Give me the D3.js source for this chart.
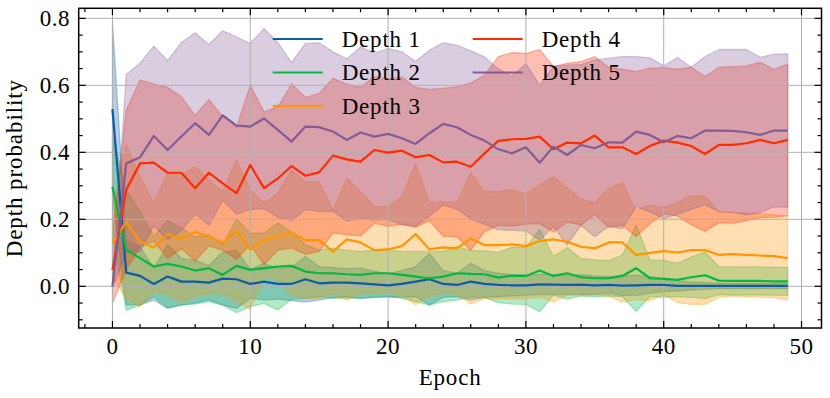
<!DOCTYPE html>
<html>
<head>
<meta charset="utf-8">
<script src="https://cdn.jsdelivr.net/npm/d3@7"></script>
<style>
  body { margin: 0; background: #fff; }
  svg text { font-family: "Liberation Serif", "DejaVu Serif", serif; fill: #000; }
</style>
</head>
<body>
<div id="chart"></div>
<script>
// depth probability per epoch: mean and std of each depth
var epochs = d3.range(0, 50);
var depthNames = ["Depth 1", "Depth 2", "Depth 3", "Depth 4", "Depth 5"];
var colors = ["#0C5DA5", "#00B945", "#FF9500", "#FF2C00", "#845B97"];

var mean1 = [0.529, 0.041, 0.031, 0.007, 0.029, 0.014, 0.014, 0.011, 0.023, 0.021,
             0.007, 0.014, 0.007, 0.007, 0.021, 0.009, 0.011, 0.011, 0.009, 0.006,
             0.003, 0.007, 0.014, 0.021, 0.007, 0.004, 0.014, 0.007, 0.004, 0.003,
             0.003, 0.006, 0.005, 0.004, 0.005, 0.003, 0.004, 0.002, 0.003, 0.004,
             0.004, 0.001, 0.001, 0.001, 0.001, 0.001, 0.001, 0.001, 0.001, 0.001];
var std1 = [0.26, 0.097, 0.087, 0.048, 0.095, 0.07, 0.064, 0.051, 0.079, 0.087,
            0.043, 0.055, 0.045, 0.05, 0.068, 0.05, 0.045, 0.042, 0.045, 0.04,
            0.035, 0.04, 0.045, 0.077, 0.04, 0.035, 0.055, 0.04, 0.035, 0.032,
            0.03, 0.03, 0.03, 0.028, 0.03, 0.028, 0.025, 0.03, 0.03, 0.025,
            0.02, 0.015, 0.012, 0.01, 0.008, 0.008, 0.008, 0.008, 0.008, 0.008];

var mean2 = [0.297, 0.108, 0.084, 0.059, 0.067, 0.059, 0.047, 0.054, 0.034, 0.061,
             0.049, 0.054, 0.059, 0.061, 0.044, 0.039, 0.039, 0.036, 0.034, 0.039,
             0.039, 0.034, 0.029, 0.024, 0.029, 0.039, 0.037, 0.036, 0.026, 0.032,
             0.031, 0.047, 0.031, 0.039, 0.027, 0.024, 0.024, 0.031, 0.054, 0.024,
             0.022, 0.019, 0.027, 0.033, 0.017, 0.016, 0.016, 0.016, 0.015, 0.015];
var std2 = [0.15, 0.18, 0.14, 0.09, 0.13, 0.115, 0.1, 0.1, 0.09, 0.14,
            0.11, 0.105, 0.13, 0.1, 0.08, 0.07, 0.075, 0.072, 0.07, 0.07,
            0.068, 0.07, 0.075, 0.08, 0.075, 0.08, 0.07, 0.07, 0.075, 0.085,
            0.085, 0.123, 0.058, 0.077, 0.056, 0.055, 0.053, 0.062, 0.129, 0.055,
            0.055, 0.05, 0.06, 0.07, 0.042, 0.042, 0.042, 0.042, 0.042, 0.042];

var mean3 = [0.128, 0.193, 0.133, 0.116, 0.156, 0.142, 0.163, 0.148, 0.13, 0.166,
             0.11, 0.138, 0.148, 0.16, 0.138, 0.138, 0.103, 0.14, 0.131, 0.108,
             0.11, 0.12, 0.156, 0.11, 0.116, 0.113, 0.143, 0.123, 0.123, 0.125,
             0.12, 0.135, 0.14, 0.133, 0.118, 0.113, 0.131, 0.131, 0.094, 0.1,
             0.105, 0.101, 0.108, 0.108, 0.094, 0.096, 0.094, 0.092, 0.09, 0.084];
var std3 = [0.1, 0.23, 0.194, 0.134, 0.181, 0.19, 0.194, 0.17, 0.153, 0.211,
            0.178, 0.11, 0.13, 0.187, 0.174, 0.174, 0.125, 0.182, 0.152, 0.13,
            0.128, 0.148, 0.211, 0.14, 0.137, 0.137, 0.196, 0.16, 0.16, 0.163,
            0.157, 0.167, 0.187, 0.16, 0.142, 0.137, 0.161, 0.178, 0.134, 0.143,
            0.13, 0.15, 0.162, 0.162, 0.127, 0.125, 0.125, 0.125, 0.124, 0.125];

var mean4 = [0.049, 0.288, 0.367, 0.369, 0.339, 0.339, 0.293, 0.339, 0.307, 0.278,
             0.362, 0.293, 0.322, 0.359, 0.33, 0.34, 0.39, 0.379, 0.372, 0.407,
             0.399, 0.405, 0.385, 0.392, 0.37, 0.372, 0.357, 0.397, 0.434, 0.439,
             0.44, 0.447, 0.409, 0.429, 0.427, 0.45, 0.415, 0.415, 0.395, 0.419,
             0.435, 0.429, 0.419, 0.395, 0.422, 0.422, 0.427, 0.437, 0.427, 0.437];
var std4 = [0.1, 0.238, 0.249, 0.235, 0.255, 0.227, 0.217, 0.219, 0.199, 0.197,
            0.238, 0.228, 0.214, 0.245, 0.234, 0.236, 0.231, 0.225, 0.222, 0.219,
            0.22, 0.22, 0.209, 0.196, 0.221, 0.224, 0.25, 0.234, 0.252, 0.259,
            0.255, 0.26, 0.247, 0.237, 0.244, 0.236, 0.239, 0.233, 0.246, 0.232,
            0.218, 0.219, 0.235, 0.231, 0.232, 0.234, 0.231, 0.232, 0.221, 0.226];

var mean5 = [0.0, 0.367, 0.385, 0.449, 0.407, 0.447, 0.487, 0.452, 0.51, 0.48,
             0.477, 0.501, 0.467, 0.432, 0.477, 0.475, 0.462, 0.437, 0.459, 0.447,
             0.455, 0.442, 0.425, 0.457, 0.485, 0.475, 0.452, 0.435, 0.409, 0.397,
             0.415, 0.369, 0.417, 0.392, 0.422, 0.412, 0.43, 0.429, 0.462, 0.452,
             0.43, 0.449, 0.442, 0.465, 0.465, 0.464, 0.46, 0.452, 0.465, 0.465];
var std5 = [0.005, 0.266, 0.281, 0.268, 0.267, 0.281, 0.27, 0.27, 0.253, 0.265,
            0.248, 0.269, 0.261, 0.236, 0.248, 0.252, 0.238, 0.242, 0.256, 0.249,
            0.255, 0.258, 0.246, 0.248, 0.242, 0.245, 0.251, 0.25, 0.24, 0.23,
            0.25, 0.231, 0.239, 0.269, 0.24, 0.264, 0.251, 0.257, 0.224, 0.23,
            0.228, 0.234, 0.212, 0.221, 0.242, 0.243, 0.247, 0.232, 0.228, 0.229];

var xTicks = [0, 10, 20, 30, 40, 50];
var yTicks = [0.0, 0.2, 0.4, 0.6, 0.8];

var means = [mean1, mean2, mean3, mean4, mean5];
var stds = [std1, std2, std3, std4, std5];

var width = 830, height = 398;
var plot = {left: 78.7, right: 821.5, top: 8.3, bottom: 328};

var x = d3.scaleLinear().domain([-2.45, 51.45]).range([plot.left, plot.right]);
var y = d3.scaleLinear().domain([-0.1245, 0.83]).range([plot.bottom, plot.top]);

var svg = d3.select("#chart").append("svg")
	.attr("width", width)
	.attr("height", height);

var series = depthNames.map(function(name, i) {
	return {
		name: name,
		color: colors[i],
		values: epochs.map(function(e) { return {e: e, m: means[i][e], s: stds[i][e]}; })
	};
});

// bands (mean +- std)
var area = d3.area()
	.x(function(d) { return x(d.e); })
	.y0(function(d) { return y(d.m - d.s); })
	.y1(function(d) { return y(d.m + d.s); });

svg.append("g").selectAll("path")
		.data(series)
	.enter().append("path")
		.attr("d", function(d) { return area(d.values); })
		.attr("fill", function(d) { return d.color; })
		.attr("fill-opacity", 0.3)
		.attr("stroke", function(d) { return d.color; })
		.attr("stroke-opacity", 0.3)
		.attr("stroke-width", 1.3)
		.attr("stroke-linejoin", "round");

// grid
var grid = svg.append("g").attr("stroke", "#b0b0b0").attr("stroke-width", 1);
xTicks.forEach(function(t) {
	grid.append("line").attr("x1", x(t)).attr("x2", x(t)).attr("y1", plot.top).attr("y2", plot.bottom);
});
yTicks.forEach(function(t) {
	grid.append("line").attr("x1", plot.left).attr("x2", plot.right).attr("y1", y(t)).attr("y2", y(t));
});

// mean lines
var line = d3.line()
	.x(function(d) { return x(d.e); })
	.y(function(d) { return y(d.m); });

svg.append("g").selectAll("path")
		.data(series)
	.enter().append("path")
		.attr("d", function(d) { return line(d.values); })
		.attr("fill", "none")
		.attr("stroke", function(d) { return d.color; })
		.attr("stroke-width", 2.2)
		.attr("stroke-linejoin", "round");

// ticks inward on all four sides
var xMinor = d3.range(-2, 52, 2).filter(function(t) { return t % 10 !== 0 && t >= x.domain()[0] && t <= x.domain()[1]; });
var yMinor = d3.range(-10, 81, 5).map(function(t) { return t / 100; })
	.filter(function(t) { return Math.round(t * 100) % 20 !== 0 && t >= y.domain()[0]; });

var tk = svg.append("g").attr("stroke", "#000").attr("stroke-width", 1.2);
function xTick(t, len) {
	tk.append("line").attr("x1", x(t)).attr("x2", x(t)).attr("y1", plot.bottom).attr("y2", plot.bottom - len);
	tk.append("line").attr("x1", x(t)).attr("x2", x(t)).attr("y1", plot.top).attr("y2", plot.top + len);
}
function yTick(t, len) {
	tk.append("line").attr("x1", plot.left).attr("x2", plot.left + len).attr("y1", y(t)).attr("y2", y(t));
	tk.append("line").attr("x1", plot.right).attr("x2", plot.right - len).attr("y1", y(t)).attr("y2", y(t));
}
xTicks.forEach(function(t) { xTick(t, 7); });
xMinor.forEach(function(t) { xTick(t, 4); });
yTicks.forEach(function(t) { yTick(t, 7); });
yMinor.forEach(function(t) { yTick(t, 4); });

// frame
svg.append("rect")
	.attr("x", plot.left).attr("y", plot.top)
	.attr("width", plot.right - plot.left).attr("height", plot.bottom - plot.top)
	.attr("fill", "none").attr("stroke", "#000").attr("stroke-width", 1.5);

// tick labels
svg.append("g").selectAll("text")
		.data(xTicks)
	.enter().append("text")
		.attr("x", function(d) { return x(d); })
		.attr("y", 354)
		.attr("text-anchor", "middle")
		.style("font-size", "23px")
		.style("letter-spacing", "0.5px")
		.text(function(d) { return d; });

svg.append("g").selectAll("text")
		.data(yTicks)
	.enter().append("text")
		.attr("x", 70)
		.attr("y", function(d) { return y(d) + 8; })
		.attr("text-anchor", "end")
		.style("font-size", "23px")
		.style("letter-spacing", "0.5px")
		.text(function(d) { return d.toFixed(1); });

// axis labels
svg.append("text")
	.attr("x", (plot.left + plot.right) / 2)
	.attr("y", 385)
	.attr("text-anchor", "middle")
	.style("font-size", "23px")
	.style("letter-spacing", "0.8px")
	.text("Epoch");

svg.append("text")
	.attr("transform", "translate(22," + ((plot.top + plot.bottom) / 2) + ") rotate(-90)")
	.attr("text-anchor", "middle")
	.style("font-size", "23px")
	.style("letter-spacing", "0.9px")
	.text("Depth probability");

// legend, two columns
var legend = svg.append("g").selectAll("g")
		.data(series)
	.enter().append("g")
		.attr("transform", function(d, i) {
			var col = i < 3 ? 0 : 1, row = i < 3 ? i : i - 3;
			return "translate(" + (272.7 + col * 200) + "," + (39 + row * 33.5) + ")";
		});

legend.append("line")
	.attr("x1", 0).attr("x2", 50)
	.attr("stroke", function(d) { return d.color; })
	.attr("stroke-width", 2.2);

legend.append("text")
	.attr("x", 69)
	.attr("y", 7.5)
	.style("font-size", "23px")
	.style("letter-spacing", "0.8px")
	.text(function(d) { return d.name; });
</script>
</body>
</html>
